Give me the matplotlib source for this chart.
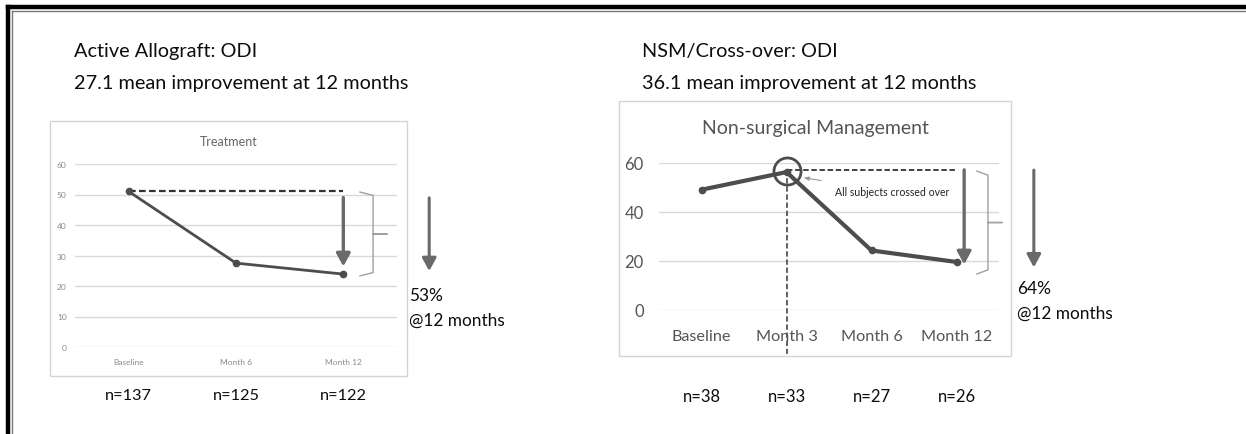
import numpy as np
import matplotlib
matplotlib.use("Agg")
import matplotlib.pyplot as plt
from matplotlib.patches import Rectangle

plt.rcParams["font.family"] = ["Lato", "DejaVu Sans"]

W, H = 1246, 435

# --- data ---
left_cats = ["Baseline", "Month 6", "Month 12"]
left_odi = [51.0, 27.5, 23.9]
left_n = ["n=137", "n=125", "n=122"]

right_cats = ["Baseline", "Month 3", "Month 6", "Month 12"]
right_odi = [49.1, 56.3, 24.3, 19.6]
right_n = ["n=38", "n=33", "n=27", "n=26"]

LINE = "#4d4d4d"
GRID = "#d9d9d9"
ARROW = "#6a6a6a"
TXT = "#0d0d0d"


def fx(x):
    return x / W


def fy(y):
    return 1 - y / H


def axes_px(fig, x0, x1, ytop, ybot):
    return fig.add_axes([fx(x0), fy(ybot), (x1 - x0) / W, (ybot - ytop) / H])


def brace(ax, x0, x1, x2, top, bot, color="#a0a0a0"):
    mid = (top + bot) / 2
    r = (top - bot) * 0.04
    xs = [x0, x1, x1, x1, x2, x1, x1, x1, x0]
    ys = [top, top - r, mid + r, mid, mid, mid, mid - r, bot + r, bot]
    ax.plot(xs, ys, color=color, lw=1.0, clip_on=False, solid_joinstyle="round")


def down_arrow(ax, x, y0, y1, lw, scale, color=ARROW):
    ax.annotate("", xy=(x, y1), xytext=(x, y0), annotation_clip=False,
                arrowprops=dict(arrowstyle="-|>,head_length=0.55,head_width=0.3",
                                color=color, lw=lw, mutation_scale=scale,
                                shrinkA=0, shrinkB=0))


fig = plt.figure(figsize=(W / 100, H / 100), dpi=100)

# outer frame (top and left double rule)
fig.add_artist(plt.Line2D([fx(8), fx(8)], [0, fy(8)], color="black", lw=3.2))
fig.add_artist(plt.Line2D([fx(8), 1], [fy(8), fy(8)], color="black", lw=3.2))
fig.add_artist(plt.Line2D([fx(12), fx(12)], [0, fy(12)], color="#777777", lw=1.0))
fig.add_artist(plt.Line2D([fx(12), 1], [fy(12), fy(12)], color="#777777", lw=1.0))

# ---------------- left panel ----------------
fig.text(fx(74), fy(52), "Active Allograft: ODI", fontsize=14.3, va="center", color=TXT)
fig.text(fx(74), fy(83), "27.1 mean improvement at 12 months", fontsize=14.3,
         va="center", color=TXT)
fig.add_artist(Rectangle((fx(50), fy(377)), (407 - 50) / W, (377 - 122) / H,
                         transform=fig.transFigure, fill=False, ec="#d4d4d4", lw=1))
fig.text(fx(229), fy(142), "Treatment", fontsize=9, ha="center", va="center", color="#666666")

axL = axes_px(fig, 75, 397, 165, 348)
xl = np.arange(len(left_cats))
axL.plot(xl, left_odi, color=LINE, lw=2.0, marker="o", ms=4.5, zorder=3)
axL.set_xlim(-0.5, len(left_cats) - 0.5)
axL.set_ylim(0, 60)
axL.set_yticks(range(0, 61, 10))
axL.set_xticks(xl)
axL.set_xticklabels(left_cats)
axL.tick_params(axis="y", length=0, pad=6, labelsize=6, labelcolor="#8a8a8a")
axL.tick_params(axis="x", length=0, pad=8, labelsize=6, labelcolor="#8a8a8a")
axL.grid(axis="y", color=GRID, lw=1)
axL.set_axisbelow(True)
for s in axL.spines.values():
    s.set_visible(False)
axL.patch.set_alpha(0)

axL.plot([0, 2], [left_odi[0], left_odi[0]], color="#333333", lw=1.6,
         ls=(0, (3, 1.5)), zorder=2)
down_arrow(axL, 2, 49.0, 26.4, lw=2.4, scale=14)
brace(axL, 2.155, 2.277, 2.407, 50.8, 23.3)
down_arrow(axL, 2.80, 48.9, 24.9, lw=2.2, scale=14)
fig.text(fx(409), fy(296), "53%", fontsize=12.4, va="center", color=TXT)
fig.text(fx(409), fy(321), "@12 months", fontsize=12.4, va="center", color=TXT)
for x, lab in zip(xl, left_n):
    axL.annotate(lab, xy=(x, 0), xycoords=("data", "axes fraction"),
                 xytext=(0, -34.5), textcoords="offset points",
                 ha="center", va="center", fontsize=11.8, color=TXT,
                 annotation_clip=False)

# ---------------- right panel ----------------
fig.text(fx(642), fy(52), "NSM/Cross-over: ODI", fontsize=14.3, va="center", color=TXT)
fig.text(fx(642), fy(83), "36.1 mean improvement at 12 months", fontsize=14.3,
         va="center", color=TXT)
fig.add_artist(Rectangle((fx(619), fy(357)), (1011 - 619) / W, (357 - 102) / H,
                         transform=fig.transFigure, fill=False, ec="#d4d4d4", lw=1))
fig.text(fx(815), fy(129), "Non-surgical Management", fontsize=14, ha="center",
         va="center", color="#555555")

axR = axes_px(fig, 659, 999, 164, 311)
xr = np.arange(len(right_cats))
axR.plot(xr, right_odi, color=LINE, lw=3.0, marker="o", ms=4.5, zorder=3)
axR.set_xlim(-0.5, len(right_cats) - 0.5)
axR.set_ylim(0, 60)
axR.set_yticks(range(0, 61, 20))
axR.set_xticks(xr)
axR.set_xticklabels(right_cats)
axR.tick_params(axis="y", length=0, pad=11, labelsize=12, labelcolor="#555555")
axR.tick_params(axis="x", length=0, pad=14, labelsize=11.7, labelcolor="#555555")
axR.grid(axis="y", color=GRID, lw=1)
axR.set_axisbelow(True)
for s in axR.spines.values():
    s.set_visible(False)
axR.patch.set_alpha(0)

axR.plot([1], [right_odi[1] + 0.6], marker="o", ms=19.5, mfc="none", mec=LINE,
         mew=2.0, zorder=4, clip_on=False)
axR.plot([1, 3], [57.2, 57.2], color="#333333", lw=1.3, ls=(0, (3, 1.5)), zorder=2)
axR.plot([1, 1], [57.2, -18], color="#555555", lw=1.3, ls=(0, (3, 1.5)),
         zorder=2, clip_on=False)
axR.annotate("All subjects crossed over", xy=(1.2, 54.0), xytext=(1.57, 48.2),
             fontsize=7.6, va="center", ha="left", color="#222222",
             arrowprops=dict(arrowstyle="-|>,head_length=0.4,head_width=0.15",
                             color="#999999", lw=0.8, shrinkA=14, shrinkB=0))
down_arrow(axR, 3.09, 57.2, 18.6, lw=2.4, scale=14)
brace(axR, 3.24, 3.37, 3.54, 56.7, 14.7)
down_arrow(axR, 3.91, 57.1, 17.4, lw=2.2, scale=14)
fig.text(fx(1017), fy(289), "64%", fontsize=12.4, va="center", color=TXT)
fig.text(fx(1017), fy(314), "@12 months", fontsize=12.4, va="center", color=TXT)
for x, lab in zip(xr, right_n):
    axR.annotate(lab, xy=(x, 0), xycoords=("data", "axes fraction"),
                 xytext=(0, -62), textcoords="offset points",
                 ha="center", va="center", fontsize=12, color=TXT,
                 annotation_clip=False)

fig.savefig("out.png", dpi=100, facecolor="white")
